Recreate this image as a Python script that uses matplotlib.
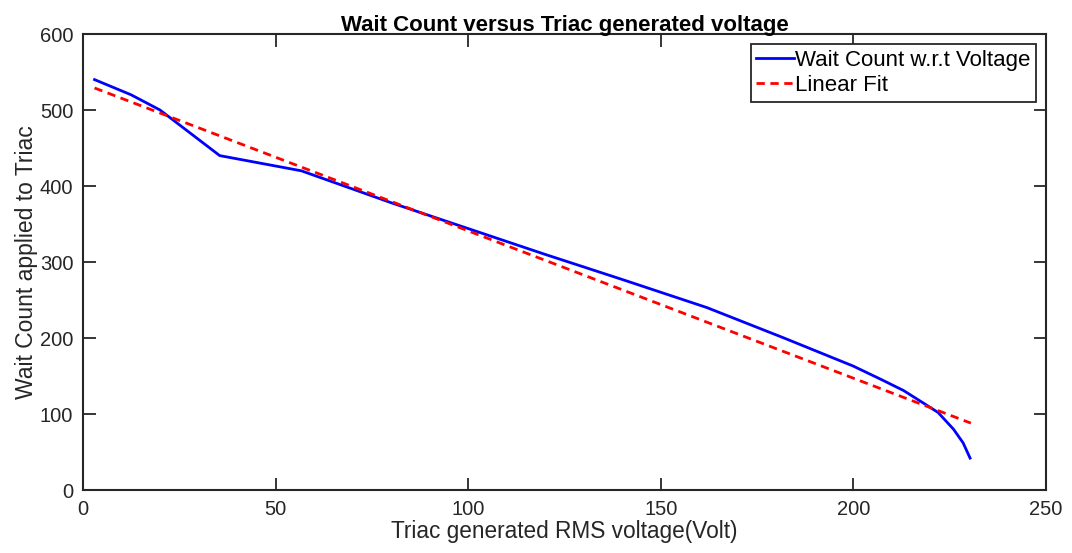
import matplotlib.pyplot as plt

plt.rcParams['font.family'] = ['Liberation Sans', 'DejaVu Sans']

# blue curve
voltage = [3, 12.5, 20, 35.5, 56.7, 80, 100, 120, 140, 162, 182, 200, 207, 213, 218, 222, 226, 228.5, 230.3]
wait_count = [540, 520, 500, 440, 420, 378, 344, 310, 277, 240, 200, 163, 146, 131, 115, 102, 80, 62, 42]

# red dashed fit, end points
fit_voltage = [3, 230.5]
fit_count = [529, 88]

xticks = [0, 50, 100, 150, 200, 250]
yticks = [0, 100, 200, 300, 400, 500, 600]

fig = plt.figure(figsize=(10.72, 5.53), dpi=100)
ax = fig.add_axes([0.0774, 0.1139, 0.8983, 0.8246])

ax.plot(voltage, wait_count, color='#0000ff', lw=2, label='Wait Count w.r.t Voltage')
ax.plot(fit_voltage, fit_count, color='#ff0000', lw=2, ls=(0, (3, 2)), label='Linear Fit')

ax.set_xlim(0, 250)
ax.set_ylim(0, 600)
ax.set_xticks(xticks)
ax.set_yticks(yticks)
ax.tick_params(direction='in', length=9, width=1.3, labelsize=14.5, top=True, right=True,
               colors='#262626', pad=7)
for s in ax.spines.values():
    s.set_linewidth(1.5)
    s.set_color('#262626')

ax.set_title('Wait Count versus Triac generated voltage', fontsize=16, fontweight='bold', pad=2)
ax.set_xlabel('Triac generated RMS voltage(Volt)', fontsize=16.3, color='#262626', labelpad=1)
ax.set_ylabel('Wait Count applied to Triac', fontsize=16.5, color='#262626', labelpad=1)

leg = ax.legend(loc='upper right', fontsize=16, fancybox=False, framealpha=1,
                edgecolor='#262626', handlelength=1.7, handletextpad=0.05,
                borderaxespad=0.45, borderpad=0.25, labelspacing=0.2)
leg.get_frame().set_linewidth(1.3)

fig.savefig('out.png', dpi=100)
